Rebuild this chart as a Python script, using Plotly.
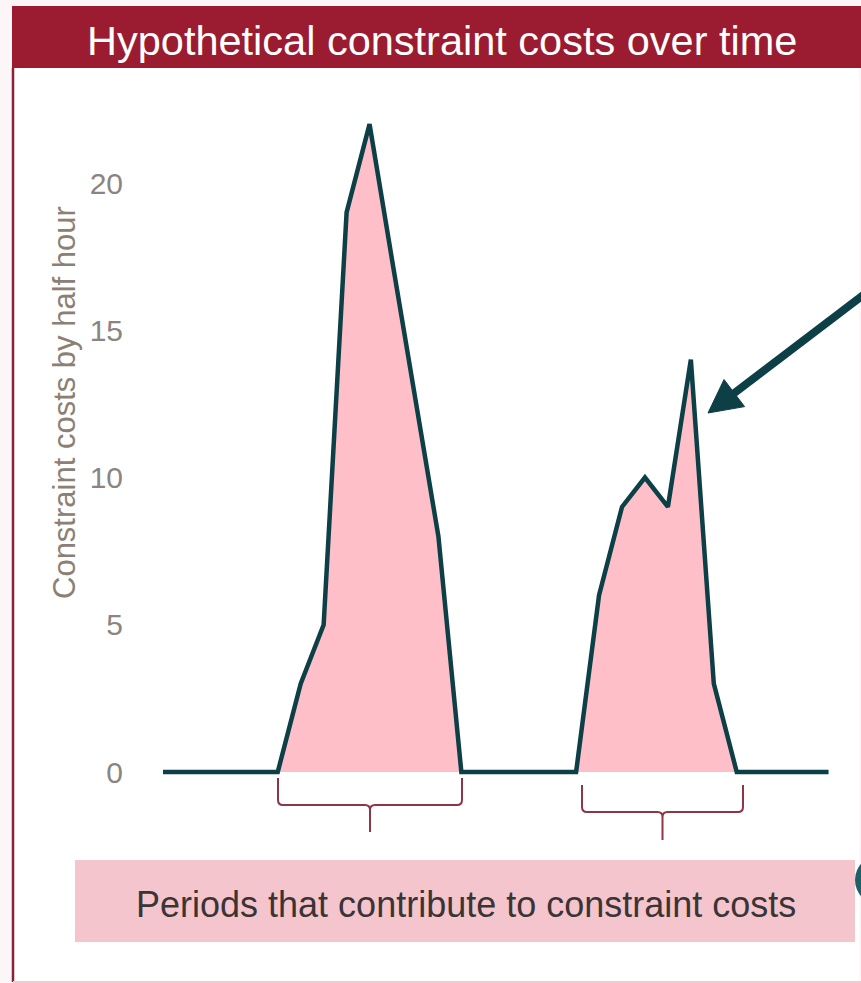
import plotly.graph_objects as go

# ---- data ----
half_hours = list(range(30))
costs = [0, 0, 0, 0, 0, 0, 3, 5, 19, 22, 17.3, 12.7, 8, 0, 0, 0, 0, 0, 0,
         6, 9, 10, 9, 14, 3, 0, 0, 0, 0, 0]
y_ticks = [0, 5, 10, 15, 20]
title_text = "Hypothetical constraint costs over time"
y_title = "Constraint costs by half hour"
box_text = "Periods that contribute to constraint costs"

W, H = 861, 983
L, R, T, B = 130, 0, 0, 0


def px(x):
    return (x - L) / (W - L - R)


def py(y):
    return 1 - (y - T) / (H - T - B)


LINE = "#0d3f47"
MAROON = "#9b1b30"
PINK = "rgb(255,191,201)"

fig = go.Figure()
fig.add_trace(go.Scatter(
    x=half_hours, y=costs, mode="lines",
    line=dict(color=LINE, width=4.5),
    fill="tozeroy", fillcolor=PINK,
    hoverinfo="skip", showlegend=False,
))

shapes = []
shapes.append(dict(type="rect", xref="paper", yref="paper", x0=px(13), x1=px(859),
                   y0=py(982), y1=py(68), fillcolor="white", line=dict(width=0), layer="below"))
shapes.append(dict(type="rect", xref="paper", yref="paper", x0=px(12), x1=px(861),
                   y0=py(68), y1=py(6), fillcolor=MAROON, line=dict(width=0)))
shapes.append(dict(type="line", xref="paper", yref="paper", x0=px(13), x1=px(13),
                   y0=py(68), y1=py(982), line=dict(color="#8b2035", width=2.5)))
shapes.append(dict(type="line", xref="paper", yref="paper", x0=px(13), x1=px(861),
                   y0=py(982), y1=py(982), line=dict(color="#f3c9d2", width=2)))


def brace(x0, x1, ytop, ymid, ybot, r=5):
    xc = (x0 + x1) / 2
    p = (f"M {px(x0)},{py(ytop)} L {px(x0)},{py(ymid - r)} "
         f"Q {px(x0)},{py(ymid)} {px(x0 + r)},{py(ymid)} "
         f"L {px(xc - r)},{py(ymid)} Q {px(xc)},{py(ymid)} {px(xc)},{py(ymid + r)} "
         f"L {px(xc)},{py(ybot)} M {px(xc)},{py(ymid + r)} "
         f"Q {px(xc)},{py(ymid)} {px(xc + r)},{py(ymid)} "
         f"L {px(x1 - r)},{py(ymid)} Q {px(x1)},{py(ymid)} {px(x1)},{py(ymid - r)} "
         f"L {px(x1)},{py(ytop)}")
    return dict(type="path", xref="paper", yref="paper", path=p,
                line=dict(color="#8e3547", width=2))


shapes.append(brace(278, 462, 778, 805, 832))
shapes.append(brace(582, 743, 785, 812, 840))

shapes.append(dict(type="rect", xref="paper", yref="paper", x0=px(75), x1=px(855),
                   y0=py(942), y1=py(860), fillcolor="#f4c5cd", line=dict(width=0)))
shapes.append(dict(type="circle", xref="paper", yref="paper", x0=px(855), x1=px(905),
                   y0=py(905), y1=py(855), fillcolor="#1f5f66", line=dict(width=0)))

tail = (861, 297)
tip = (708, 413)
dx, dy = tip[0] - tail[0], tip[1] - tail[1]
ln = (dx * dx + dy * dy) ** 0.5
ux, uy = dx / ln, dy / ln
nx, ny = -uy, ux
hl, hw = 33, 17
bx, by = tip[0] - hl * ux, tip[1] - hl * uy
shapes.append(dict(type="line", xref="paper", yref="paper",
                   x0=px(tail[0] + 5), y0=py(tail[1] - 4), x1=px(bx + 3 * ux), y1=py(by + 3 * uy),
                   line=dict(color=LINE, width=8)))
shapes.append(dict(type="path", xref="paper", yref="paper",
                   path=(f"M {px(tip[0])},{py(tip[1])} L {px(bx + hw * nx)},{py(by + hw * ny)} "
                         f"L {px(bx - hw * nx)},{py(by - hw * ny)} Z"),
                   fillcolor=LINE, line=dict(color=LINE, width=1)))

annotations = [
    dict(text=title_text, xref="paper", yref="paper", x=px(442), y=py(40),
         showarrow=False, font=dict(family="Liberation Sans, Arial", size=41.5, color="white"),
         xanchor="center", yanchor="middle"),
    dict(text=y_title, xref="paper", yref="paper", x=px(64), y=py(403), textangle=-90,
         showarrow=False, font=dict(family="Liberation Sans, Arial", size=31, color="#8c8075"),
         xanchor="center", yanchor="middle"),
    dict(text=box_text, xref="paper", yref="paper", x=px(466), y=py(904),
         showarrow=False, font=dict(family="Liberation Sans, Arial", size=36, color="#3b3435"),
         xanchor="center", yanchor="middle"),
]

x_lo = (L - 163) / 22.95
x_hi = (W - R - 163) / 22.95
y_lo = -(H - B - 772) / 29.45
y_hi = (772 - T) / 29.45

fig.update_layout(
    width=W, height=H,
    margin=dict(l=L, r=R, t=T, b=B),
    paper_bgcolor="#fdf6f8", plot_bgcolor="rgba(0,0,0,0)",
    shapes=shapes, annotations=annotations,
    xaxis=dict(range=[x_lo, x_hi], visible=False, fixedrange=True),
    yaxis=dict(range=[y_lo, y_hi], tickvals=y_ticks, showgrid=False, zeroline=False,
               showline=False, ticks="", ticklabelstandoff=6,
               tickfont=dict(family="Liberation Sans, Arial", size=30, color="#8a8583"),
               fixedrange=True),
    showlegend=False,
)

fig.write_html("out.html", config={"displayModeBar": False},
               post_script="document.body.style.margin='0';")
